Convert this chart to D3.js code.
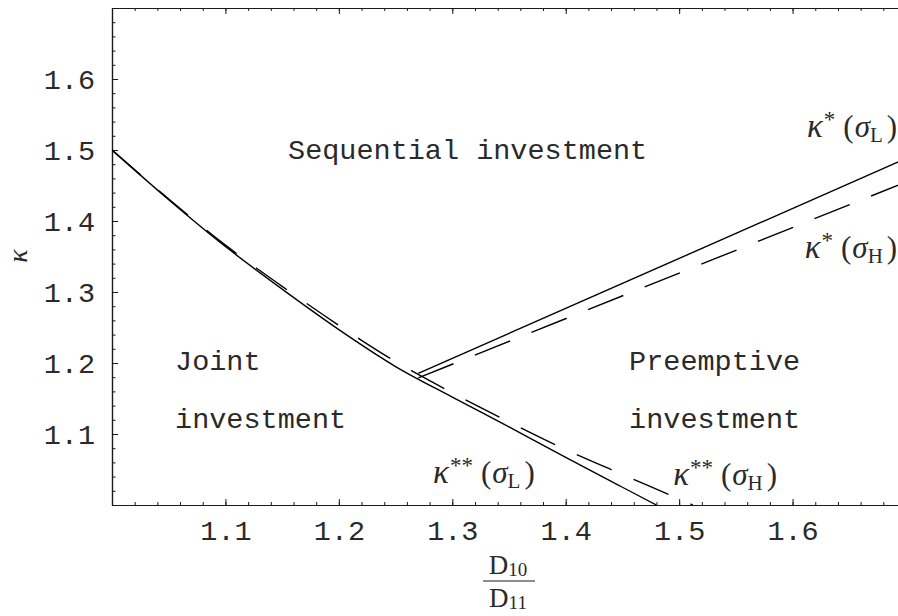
<!DOCTYPE html>
<html>
<head>
<meta charset="utf-8">
<script src="https://cdn.jsdelivr.net/npm/d3@7"></script>
<style>
  html, body { margin: 0; padding: 0; background: #fff; }
  svg { display: block; }
</style>
</head>
<body>
<svg id="chart" width="898" height="616"></svg>
<script>
// ---- data ----
const xTicks = [1.1, 1.2, 1.3, 1.4, 1.5, 1.6];
const yTicks = [1.1, 1.2, 1.3, 1.4, 1.5, 1.6];

// kappa** (sigma_L), solid
const kss_L_x = [1.0, 1.05, 1.1, 1.15, 1.2, 1.25, 1.3, 1.35, 1.4, 1.45, 1.48];
const kss_L_y = [1.5, 1.430, 1.364, 1.304, 1.247, 1.195, 1.152, 1.110, 1.067, 1.025, 1.0];

// kappa** (sigma_H), dashed
const kss_H_x = [1.0, 1.05, 1.1, 1.15, 1.2, 1.25, 1.3, 1.35, 1.4, 1.45, 1.5, 1.512];
const kss_H_y = [1.5, 1.431, 1.366, 1.308, 1.253, 1.202, 1.158, 1.117, 1.078, 1.043, 1.0085, 1.0];

// kappa* (sigma_L), solid
const ks_L_x = [1.27, 1.7];
const ks_L_y = [1.1855, 1.488];

// kappa* (sigma_H), dashed
const ks_H_x = [1.27, 1.7];
const ks_H_y = [1.179, 1.455];

const regionText = ["Sequential investment", "Joint", "investment", "Preemptive", "investment"];
const regionX = [1.1552, 1.0556, 1.0556, 1.4559, 1.4559];
const regionY = [1.4873, 1.1901, 1.1085, 1.1901, 1.1085];

// curve labels: anchor "end" ones are placed by their right edge
const curveStars = ["*", "*", "**", "**"];
const curveSub = ["L", "H", "L", "H"];
const curveAnchor = ["end", "end", "start", "start"];
const curveX = [1.6922, 1.6922, 1.2831, 1.4947];
const curveY = [1.5183, 1.3479, 1.031, 1.0282];

// ---- drawing ----
const svg = d3.select("#chart");
svg.append("rect").attr("width", 898).attr("height", 616).attr("fill", "#fff");

const x = d3.scaleLinear().domain([1.0, 1.7]).range([112, 906]);
const y = d3.scaleLinear().domain([1.0, 1.7]).range([505, 8]);

const ink = "#1a1a1a";
const textInk = "#2a2a2a";
const mono = "'Courier New', Courier, 'Nimbus Mono PS', FreeMono, 'Liberation Mono', 'DejaVu Sans Mono', monospace";
const serif = "'Liberation Serif', 'DejaVu Serif', serif";

svg.append("defs").append("clipPath").attr("id", "plotclip")
  .append("rect").attr("x", 112).attr("y", 8).attr("width", 794).attr("height", 497);

const minorVals = d3.range(0, 36).map(i => +(1.0 + i * 0.02).toFixed(2));

function styleAxis(g) {
  g.selectAll("path.domain").attr("stroke", ink).attr("stroke-width", 1.2);
  g.selectAll(".tick line").attr("stroke", ink).attr("stroke-width", 1);
  g.selectAll(".tick text").attr("font-family", mono).attr("font-size", 28.5).attr("fill", textInk);
}

// bottom minor
svg.append("g").attr("transform", "translate(0,505)")
  .call(d3.axisBottom(x).tickValues(minorVals).tickSizeInner(-3).tickSizeOuter(0).tickFormat(""))
  .call(styleAxis);
// bottom major
svg.append("g").attr("transform", "translate(0,505)")
  .call(d3.axisBottom(x).tickValues(xTicks).tickSizeInner(-6).tickSizeOuter(0).tickPadding(15).tickFormat(d3.format(".1f")))
  .call(styleAxis);
// top minor/major
svg.append("g").attr("transform", "translate(0,8)")
  .call(d3.axisTop(x).tickValues(minorVals).tickSizeInner(-3).tickSizeOuter(0).tickFormat(""))
  .call(styleAxis);
svg.append("g").attr("transform", "translate(0,8)")
  .call(d3.axisTop(x).tickValues(xTicks).tickSizeInner(-6).tickSizeOuter(0).tickFormat(""))
  .call(styleAxis);
// left minor
svg.append("g").attr("transform", "translate(112,0)")
  .call(d3.axisLeft(y).tickValues(minorVals).tickSizeInner(-3.5).tickSizeOuter(0).tickFormat(""))
  .call(styleAxis);
// left major
svg.append("g").attr("transform", "translate(112,0)")
  .call(d3.axisLeft(y).tickValues(yTicks).tickSizeInner(-6).tickSizeOuter(0).tickPadding(17).tickFormat(d3.format(".1f")))
  .call(styleAxis);

// curves
const plot = svg.append("g").attr("clip-path", "url(#plotclip)");
function zipPts(xs, ys) { return xs.map((v, i) => [v, ys[i]]); }
const lineGen = d3.line().x(d => x(d[0])).y(d => y(d[1])).curve(d3.curveMonotoneX);

const series = [
  { pts: zipPts(kss_L_x, kss_L_y), dash: null },
  { pts: zipPts(kss_H_x, kss_H_y), dash: "38,24" },
  { pts: zipPts(ks_L_x, ks_L_y), dash: null },
  { pts: zipPts(ks_H_x, ks_H_y), dash: "38,23" }
];
series.forEach(s => {
  plot.append("path").datum(s.pts)
    .attr("d", lineGen)
    .attr("fill", "none")
    .attr("stroke", "#000")
    .attr("stroke-width", 1.4)
    .attr("stroke-dasharray", s.dash);
});

// region labels
regionText.forEach((t, i) => {
  svg.append("text")
    .attr("x", x(regionX[i])).attr("y", y(regionY[i]))
    .attr("font-family", mono).attr("font-size", 28.5).attr("fill", textInk)
    .attr("xml:space", "preserve")
    .text(t);
});

// curve labels
curveStars.forEach((st, i) => {
  const t = svg.append("text")
    .attr("x", x(curveX[i])).attr("y", y(curveY[i]))
    .attr("text-anchor", curveAnchor[i])
    .attr("font-family", serif).attr("font-size", 31).attr("fill", textInk);
  t.append("tspan").attr("font-style", "italic").attr("font-size", 33).text("κ");
  t.append("tspan").attr("font-size", 23).attr("dy", -10).attr("dx", 1).text(st);
  t.append("tspan").attr("dy", 10).attr("dx", 8).text("(");
  t.append("tspan").attr("font-style", "italic").attr("dx", 1).text("σ");
  t.append("tspan").attr("font-size", 21).attr("dy", 5).text(curveSub[i]);
  t.append("tspan").attr("dy", -5).attr("dx", 4).text(")");
});

// y axis label
svg.append("text")
  .attr("transform", "translate(27,256) rotate(-90)")
  .attr("text-anchor", "middle")
  .attr("font-family", serif).attr("font-size", 28).attr("font-style", "italic").attr("fill", textInk)
  .text("κ");

// x axis label: D10 / D11
const xl = svg.append("g");
const numT = xl.append("text").attr("x", 508).attr("y", 574).attr("text-anchor", "middle")
  .attr("font-family", serif).attr("font-size", 27).attr("fill", textInk);
numT.append("tspan").text("D");
numT.append("tspan").attr("font-size", 19).attr("dy", 2).text("10");
xl.append("line").attr("x1", 483).attr("x2", 535).attr("y1", 581).attr("y2", 581)
  .attr("stroke", ink).attr("stroke-width", 1);
const denT = xl.append("text").attr("x", 508).attr("y", 607).attr("text-anchor", "middle")
  .attr("font-family", serif).attr("font-size", 27).attr("fill", textInk);
denT.append("tspan").text("D");
denT.append("tspan").attr("font-size", 19).attr("dy", 2).text("11");
</script>
</body>
</html>
